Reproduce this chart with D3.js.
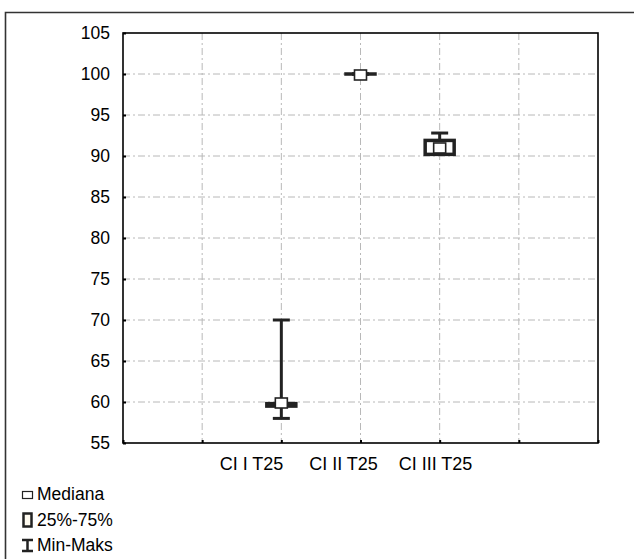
<!DOCTYPE html>
<html><head><meta charset="utf-8">
<script src="https://cdn.jsdelivr.net/npm/d3@7"></script>
<style>body{margin:0;background:#fff}svg{display:block;font-family:"Liberation Sans",Arial,sans-serif}</style>
</head><body>
<script>
const categories = ["CI I T25", "CI II T25", "CI III T25"];
const minVals = [58, 100, 90.2];
const q1Vals = [59.5, 100, 90.2];
const medianVals = [60, 100, 91.1];
const q3Vals = [59.8, 100, 91.9];
const maxVals = [70, 100, 92.8];
const yTicks = [55, 60, 65, 70, 75, 80, 85, 90, 95, 100, 105];
const legendLabels = ["Mediana", "25%-75%", "Min-Maks"];

const W = 634, H = 559;
const svg = d3.select("body").append("svg").attr("width", W).attr("height", H);
const L = 123, R = 598, T = 33, B = 443;
const FONT = "Liberation Sans, Arial, sans-serif";

// outer frame (top + left)
svg.append("path").attr("d", `M5.5,${H} L5.5,12.5 L${W},12.5`).attr("fill", "none")
  .attr("stroke", "#333").attr("stroke-width", 1.6);

const y = d3.scaleLinear().domain([55, 105]).range([B, T]);
const x = d3.scaleLinear().domain([0, 6]).range([L, R]);
const pos = i => x(i + 2);
// Statistica places the category captions on their own, wider spacing
const labelX = d3.scalePoint().domain(categories).range([251, 435]);

const g = svg.append("g");
// grid
g.selectAll(".hg").data(yTicks.filter(t => t > 55 && t < 105)).enter().append("line")
  .attr("x1", L).attr("x2", R).attr("y1", d => y(d)).attr("y2", d => y(d))
  .attr("stroke", "#b8b8b8").attr("stroke-width", 1).attr("stroke-dasharray", "7,3,2,3");
g.selectAll(".vg").data([1, 2, 3, 4, 5]).enter().append("line")
  .attr("x1", d => x(d)).attr("x2", d => x(d)).attr("y1", T).attr("y2", B)
  .attr("stroke", "#b8b8b8").attr("stroke-width", 1).attr("stroke-dasharray", "7,3,2,3");

// frame
g.append("rect").attr("x", L).attr("y", T).attr("width", R - L).attr("height", B - T)
  .attr("fill", "none").attr("stroke", "#000").attr("stroke-width", 1.6);

// axes
const yAxis = d3.axisLeft(y).tickValues(yTicks).tickSize(-3).tickPadding(13);
const ya = g.append("g").attr("transform", `translate(${L},0)`).call(yAxis);
ya.select(".domain").remove();
ya.selectAll(".tick line").attr("stroke", "#000").attr("stroke-width", 2);
ya.selectAll("text").attr("font-size", 17.5).attr("fill", "#000").attr("font-family", FONT);

const xAxis = d3.axisBottom(x).tickValues([0,1,2,3,4,5,6]).tickSize(-3).tickFormat("");
const xa = g.append("g").attr("transform", `translate(0,${B})`).call(xAxis);
xa.select(".domain").remove();
xa.selectAll(".tick line").attr("stroke", "#000").attr("stroke-width", 2);

const la = g.append("g").attr("transform", `translate(0,${B})`)
  .call(d3.axisBottom(labelX).tickSize(0).tickPadding(14));
la.select(".domain").remove();
la.selectAll("text").attr("font-size", 18).attr("fill", "#000").attr("font-family", FONT);

// box plots
const capW = 17, boxW = 32;
categories.forEach((c, i) => {
  const cx = pos(i);
  const bg = g.append("g");
  bg.append("line").attr("x1", cx).attr("x2", cx).attr("y1", y(maxVals[i])).attr("y2", y(minVals[i]))
    .attr("stroke", "#222").attr("stroke-width", 3);
  [minVals[i], maxVals[i]].forEach(v => {
    bg.append("line").attr("x1", cx - capW / 2).attr("x2", cx + capW / 2).attr("y1", y(v)).attr("y2", y(v))
      .attr("stroke", "#222").attr("stroke-width", 3);
  });
  bg.append("rect").attr("x", cx - boxW / 2 + 1.5).attr("width", boxW - 3)
    .attr("y", y(q3Vals[i])).attr("height", Math.max(0.01, y(q1Vals[i]) - y(q3Vals[i])))
    .attr("fill", "#fff").attr("stroke", "#222").attr("stroke-width", 3.5);
  bg.append("rect").attr("x", cx - 6).attr("width", 12).attr("y", y(medianVals[i]) - 4).attr("height", 10)
    .attr("fill", "#fff").attr("stroke", "#222").attr("stroke-width", 1.6);
});

// legend
const lg = svg.append("g").attr("font-size", 17.5).attr("fill", "#000").attr("font-family", FONT);
const ly = [494, 520, 545];
legendLabels.forEach((t, i) => {
  lg.append("text").attr("x", 37).attr("y", ly[i]).attr("dy", "0.35em").text(t);
});
lg.append("rect").attr("x", 22.5).attr("y", ly[0] - 2.5).attr("width", 10).attr("height", 7)
  .attr("fill", "#fff").attr("stroke", "#222").attr("stroke-width", 1.2);
lg.append("rect").attr("x", 23.5).attr("y", ly[1] - 6.5).attr("width", 8).attr("height", 13)
  .attr("fill", "#fffbf0").attr("stroke", "#222").attr("stroke-width", 2.5);
lg.append("path").attr("d", `M22,${ly[2]-5} H33 M27.5,${ly[2]-5} V${ly[2]+6} M22,${ly[2]+6} H33`)
  .attr("fill", "none").attr("stroke", "#222").attr("stroke-width", 2.5);
</script>
</body></html>
